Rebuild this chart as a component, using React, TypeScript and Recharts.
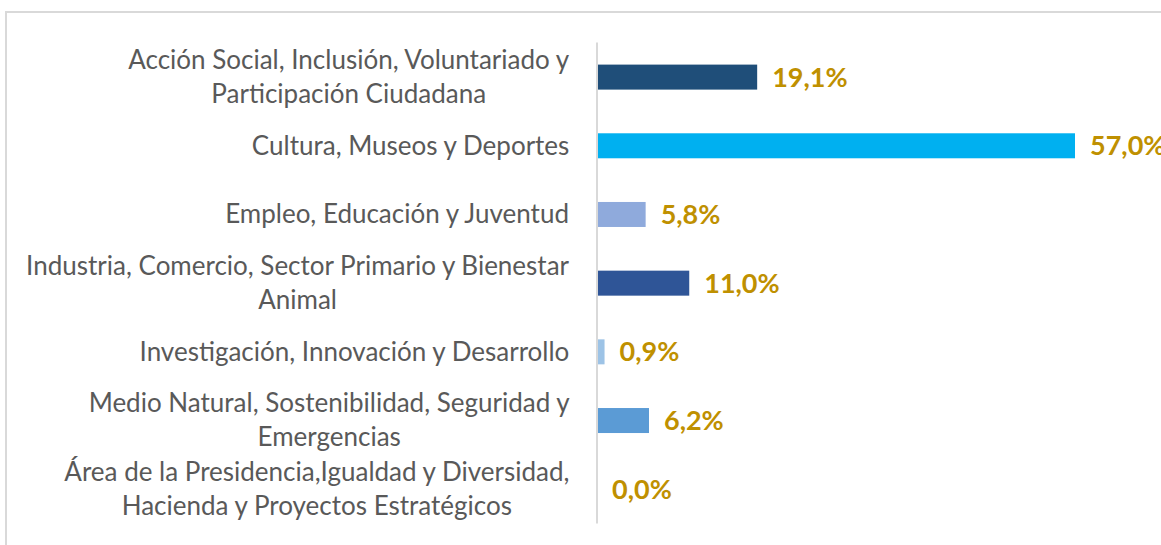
import React from 'react';
import { BarChart, Bar, XAxis, YAxis } from 'recharts';

const categories: string[] = [
  'Acción Social, Inclusión, Voluntariado y\nParticipación Ciudadana',
  'Cultura, Museos y Deportes',
  'Empleo, Educación y Juventud',
  'Industria, Comercio, Sector Primario y Bienestar\nAnimal',
  'Investigación, Innovación y Desarrollo',
  'Medio Natural, Sostenibilidad, Seguridad y\nEmergencias',
  'Área de la Presidencia,Igualdad y Diversidad,\nHacienda y Proyectos Estratégicos',
];
const values: number[] = [19.1, 57.0, 5.8, 11.0, 0.9, 6.2, 0.0];
const barColors: string[] = ['#1F4E79', '#00B0F0', '#8FAADC', '#2F5597', '#9DC3E6', '#5B9BD5', '#A5A5A5'];

const data = categories.map((name, i) => ({ name, value: values[i], color: barColors[i] }));

const FONT = 'Lato, "Open Sans", sans-serif';
const CAT_SIZE = 26;
const LINE_H = 34;

let ctx: CanvasRenderingContext2D | null = null;
function measure(text: string, font: string): number {
  if (!ctx) ctx = document.createElement('canvas').getContext('2d');
  if (!ctx) return text.length * 12;
  ctx.font = font;
  return ctx.measureText(text).width;
}

const CategoryTick = (props: any) => {
  const { y, payload } = props;
  const lines: string[] = String(payload.value).split('\n');
  const rightEdge = 570;
  const font = `${CAT_SIZE}px Lato`;
  const w = Math.max(...lines.map((l) => measure(l, font)));
  const cx = rightEdge - w / 2;
  const startDy = -((lines.length - 1) * LINE_H) / 2;
  return (
    <g>
      {lines.map((l, i) => (
        <text
          key={i}
          x={cx}
          y={y + startDy + i * LINE_H}
          dy="0.35em"
          textAnchor="middle"
          fill="#595959"
          fontSize={CAT_SIZE}
          fontFamily={FONT}
        >
          {l}
        </text>
      ))}
    </g>
  );
};

const fmt = (v: any) => `${Number(v).toFixed(1).replace('.', ',')}%`;

const BarWithLabel = (props: any) => {
  const { x, y, width, height, payload } = props;
  const w = Math.max(0, width || 0);
  return (
    <g>
      {w > 0 && <rect x={x} y={y} width={w} height={height} fill={payload.color} />}
      <text
        x={x + w + 15}
        y={y + height / 2}
        dy="0.35em"
        textAnchor="start"
        fill="#BF9000"
        fontSize={27}
        fontWeight="bold"
        fontFamily={FONT}
      >
        {fmt(payload.value)}
      </text>
    </g>
  );
};

export default function App() {
  return (
    <div style={{ position: 'absolute', left: 0, top: 0, width: 1161, height: 545, background: '#fff', overflow: 'hidden' }}>
      <div
        style={{
          position: 'absolute',
          left: 5,
          top: 11,
          width: 1200,
          height: 600,
          border: '2px solid #D9D9D9',
          boxSizing: 'border-box',
        }}
      />
      <div style={{ position: 'absolute', left: 0, top: 0 }}>
        <BarChart
          layout="vertical"
          width={1161}
          height={545}
          data={data}
          margin={{ top: 42.6, right: 86, bottom: 21.6, left: 0 }}
          barCategoryGap={0}
        >
          <XAxis type="number" hide domain={[0, 'dataMax']} />
          <YAxis
            type="category"
            dataKey="name"
            width={597}
            axisLine={{ stroke: '#D9D9D9', strokeWidth: 2 }}
            tickLine={false}
            tick={<CategoryTick />}
            interval={0}
          />
          <Bar dataKey="value" barSize={25} isAnimationActive={false} shape={<BarWithLabel />} />
        </BarChart>
      </div>
    </div>
  );
}
